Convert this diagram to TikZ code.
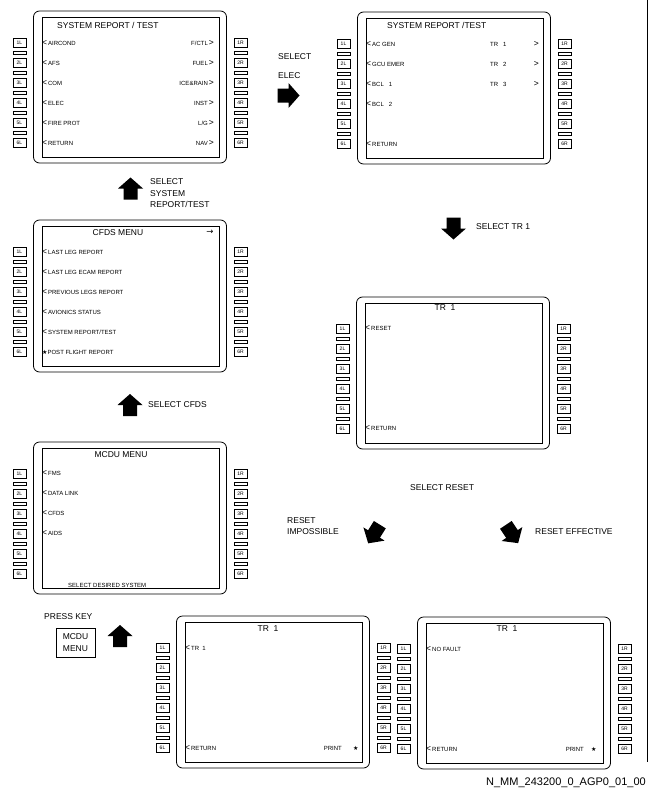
\documentclass[tikz,border=0pt]{standalone}
\usepackage{fontspec}
\setmainfont{Liberation Sans}
\newfontfamily\symfont{DejaVu Sans}
\usetikzlibrary{calc}
\def\keyfont{\fontsize{5}{5.5}\selectfont}
\def\itemfont{\fontsize{6}{7}\selectfont}
\def\titlefont{\fontsize{8.5}{10}\selectfont}
\def\lblfont{\fontsize{8.5}{11.5}\selectfont}
\def\selL{{\fontsize{8.5}{8}\selectfont<}\,}
\def\selR{\,{\fontsize{8.5}{8}\selectfont>}}
\tikzset{
  bezel/.style={draw, rounded corners=6pt, minimum width=193pt, minimum height=152pt, inner sep=0pt, line width=0.8pt},
  lcd/.style={draw, minimum width=177pt, minimum height=140pt, inner sep=0pt, line width=0.6pt},
  lsk/.style={draw, minimum width=13pt, minimum height=9pt, inner sep=0pt, font=\keyfont, line width=0.5pt},
  scrtitle/.style={font=\titlefont, inner sep=0pt},
  litem/.style={font=\itemfont, inner sep=0pt, anchor=west},
  ritem/.style={font=\itemfont, inner sep=0pt, anchor=east},
  lbltext/.style={font=\lblfont, inner sep=0pt, anchor=west, align=left},
}
% screen: (top left corner){name}{contents}
\def\screen(#1)#2#3{%
  \begin{scope}[shift={(#1)}]
    \node[bezel] (#2) at (97,76) {};
    \node[lcd] (#2-lcd) at (97.5,76) {};
    \foreach \k in {1,...,6}{
      \node[lsk] (#2-L\k) at (-13.5,12+20*\k) {\k L};
      \node[lsk] (#2-R\k) at (207.5,12+20*\k) {\k R};
    }
    \foreach \k in {1,...,5}{
      \draw[line width=0.5pt] (-20,20+20*\k) rectangle (-7,23+20*\k);
      \draw[line width=0.5pt] (201,20+20*\k) rectangle (214,23+20*\k);
    }
    #3
  \end{scope}}
% block arrow: (centre){angle}{name}
\def\blockarrow(#1)#2#3{%
  \begin{scope}[shift={(#1)},rotate=#2]
    \coordinate (#3) at (0,0);
    \fill (-11,-7) -- (0,-7) -- (0,-12.5) -- (11,0) -- (0,12.5) -- (0,7) -- (-11,7) -- cycle;
  \end{scope}}

\begin{document}
\begin{tikzpicture}[x=1pt,y=-1pt]
  \useasboundingbox (0,0) rectangle (648,792);

  %%%%% SCREENS %%%%%
  \screen(33,11){sysrep}{
    \node[scrtitle,anchor=west] (sysrep-t) at (24,14) {SYSTEM REPORT / TEST};
    \node[litem] (sysrep-l1) at (9,32) {\selL AIRCOND};
    \node[litem] (sysrep-l2) at (9,52) {\selL AFS};
    \node[litem] (sysrep-l3) at (9,72) {\selL COM};
    \node[litem] (sysrep-l4) at (9,92) {\selL ELEC};
    \node[litem] (sysrep-l5) at (9,112) {\selL FIRE PROT};
    \node[litem] (sysrep-l6) at (9,132) {\selL RETURN};
    \node[ritem] (sysrep-r1) at (181,32) {F/CTL\selR};
    \node[ritem] (sysrep-r2) at (181,52) {FUEL\selR};
    \node[ritem] (sysrep-r3) at (181,72) {ICE\&RAIN\selR};
    \node[ritem] (sysrep-r4) at (181,92) {INST\selR};
    \node[ritem] (sysrep-r5) at (181,112) {L/G\selR};
    \node[ritem] (sysrep-r6) at (181,132) {NAV\selR};
  }
  \screen(357,12){elecrep}{
    \node[scrtitle,anchor=west] (elecrep-t) at (30,13) {SYSTEM REPORT /TEST};
    \node[litem] (elecrep-l1) at (9,32) {\selL AC GEN};
    \node[litem] (elecrep-l2) at (9,52) {\selL GCU EMER};
    \node[litem] (elecrep-l3) at (9,72) {\selL BCL~~~1};
    \node[litem] (elecrep-l4) at (9,92) {\selL BCL~~~2};
    \node[litem] (elecrep-l6) at (9,132) {\selL RETURN};
    \foreach \k in {1,2,3}{
      \node[litem] (elecrep-tr\k) at (133,12+20*\k) {TR~~~\k};
      \node[ritem] (elecrep-r\k) at (182,12+20*\k) {\selR};
    }
  }
  \screen(33,220){cfds}{
    \node[scrtitle] (cfds-t) at (85,13) {CFDS MENU};
    \node[scrtitle] (cfds-next) at (177,12) {\symfont →};
    \node[litem] (cfds-l1) at (9,32) {\selL LAST LEG REPORT};
    \node[litem] (cfds-l2) at (9,52) {\selL LAST LEG ECAM REPORT};
    \node[litem] (cfds-l3) at (9,72) {\selL PREVIOUS LEGS REPORT};
    \node[litem] (cfds-l4) at (9,92) {\selL AVIONICS STATUS};
    \node[litem] (cfds-l5) at (9,112) {\selL SYSTEM REPORT/TEST};
    \node[litem] (cfds-l6) at (9,132) {{\symfont ★}POST FLIGHT REPORT};
  }
  \screen(356,297){trone}{
    \node[scrtitle] (trone-t) at (89,11) {TR~~1};
    \node[litem] (trone-l1) at (9,31) {\selL RESET};
    \node[litem] (trone-l6) at (9,131) {\selL RETURN};
  }
  \screen(33,442){mcdu}{
    \node[scrtitle] (mcdu-t) at (88,13) {MCDU MENU};
    \node[litem] (mcdu-l1) at (9,31) {\selL FMS};
    \node[litem] (mcdu-l2) at (9,51) {\selL DATA LINK};
    \node[litem] (mcdu-l3) at (9,71) {\selL CFDS};
    \node[litem] (mcdu-l4) at (9,91) {\selL AIDS};
    \node[litem] (mcdu-msg) at (35,143) {SELECT DESIRED SYSTEM};
  }
  \screen(176,616){trfault}{
    \node[scrtitle] (trfault-t) at (92,13) {TR~~1};
    \node[litem] (trfault-l1) at (9,32) {\selL TR~~1};
    \node[litem] (trfault-l6) at (9,132) {\selL RETURN};
    \node[ritem] (trfault-r6) at (166,132) {PRINT};
    \node[litem] (trfault-star) at (177,132) {\symfont ★};
  }
  \screen(417,617){nofault}{
    \node[scrtitle] (nofault-t) at (90,12) {TR~~1};
    \node[litem] (nofault-l1) at (9,32) {\selL NO FAULT};
    \node[litem] (nofault-l6) at (9,132) {\selL RETURN};
    \node[ritem] (nofault-r6) at (167,132) {PRINT};
    \node[litem] (nofault-star) at (174,132) {\symfont ★};
  }

  %%%%% ARROWS AND ACTIONS %%%%%
  \blockarrow(288.5,95.5){0}{elecarrow}
  \node[lbltext] (electxt) at (278,66.5) {SELECT\\[7.5pt]ELEC};
  \blockarrow(130.5,188.5){90}{sysarrow}
  \node[lbltext] (systxt) at (150,193.5) {SELECT\\SYSTEM\\REPORT/TEST};
  \blockarrow(453.5,228.5){-90}{trarrow}
  \node[lbltext] (trtxt) at (476,227) {SELECT TR 1};
  \blockarrow(130,405){90}{cfdsarrow}
  \node[lbltext] (cfdstxt) at (148,405) {SELECT CFDS};
  \node[lbltext] (resettxt) at (410,488) {SELECT RESET};
  \blockarrow(374,534){-122}{impossarrow}
  \node[lbltext] (impostxt) at (287,526) {RESET\\IMPOSSIBLE};
  \blockarrow(512,534){-56}{effectarrow}
  \node[lbltext] (effecttxt) at (535,532) {RESET EFFECTIVE};
  \node[lbltext] (presstxt) at (44,617) {PRESS KEY};
  \node[draw, line width=0.6pt, font=\lblfont, align=center, minimum width=39pt, minimum height=29pt, inner sep=1pt] (mcdukey) at (75.5,642.5) {MCDU\\MENU};
  \blockarrow(120,636){90}{keyarrow}

  \node[font=\fontsize{11}{12}\selectfont, inner sep=0pt, anchor=east] (ref) at (646,783) {N\_MM\_243200\_0\_AGP0\_01\_00};
  \draw[line width=0.8pt] (647,0) -- (647,762);
\end{tikzpicture}
\end{document}
